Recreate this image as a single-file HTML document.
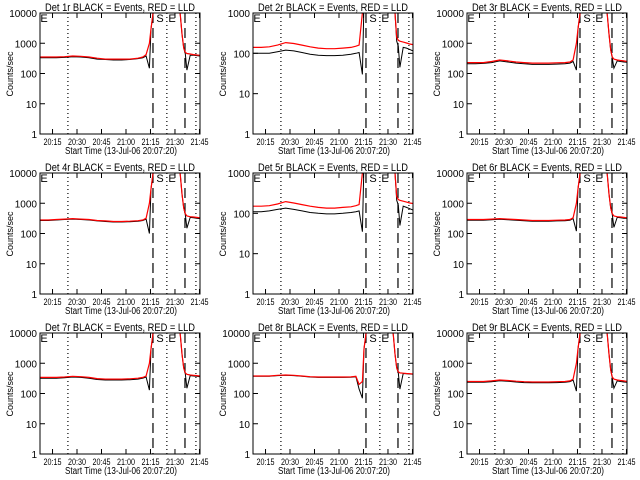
<!DOCTYPE html>
<html><head><meta charset="utf-8"><style>
html,body{margin:0;padding:0;background:#fff;}
svg{display:block;font-family:"Liberation Sans",sans-serif;}
</style></head><body>
<svg id="chart" width="640" height="480" viewBox="0 0 640 480"></svg>
<script>
const times=[0,5,10,15,20,25,30,35,40,45,50,55,60,63,65,67,68,69,70,71,85,86,87,88,89,90,92,94,96,98];
const xTickLabels=["20:15","20:30","20:45","21:00","21:15","21:30","21:45"];
const xTickMinutes=[7.67,22.67,37.67,52.67,67.67,82.67,97.67];
const dottedLines=[17.1,77.7,95.5];
const dashedLines=[69.2,88.8];
const detNames=["1r","2r","3r","4r","5r","6r","7r","8r","9r"];
const yMaxDecade=[4,3,4,4,3,4,4,4,4];
const red1=[350,350,350,360,380,370,350,320,300,300,300,300,320,350,420,1000,3000,8000,20000,20000,20000,8000,2000,700,500,460,440,420,410,400];
const blk1=[330,330,330,340,360,350,330,300,290,280,280,290,310,330,380,150,3000,8000,20000,20000,20000,8000,2000,700,450,130,400,400,390,380];
const red2=[140,140,145,160,185,175,160,145,135,130,130,135,140,150,160,1000,2000,3000,3000,3000,3000,2000,1000,250,210,200,190,180,170,165];
const blk2=[100,100,100,110,120,115,105,95,90,88,88,90,95,100,105,30,2000,3000,3000,3000,3000,2000,1000,200,150,45,140,135,125,115];
const red3=[230,230,230,250,280,260,240,230,220,220,220,225,230,240,280,1000,3000,8000,20000,20000,20000,8000,2000,600,350,300,280,270,260,250];
const blk3=[210,210,215,230,260,240,220,210,200,200,200,205,210,220,250,130,3000,8000,20000,20000,20000,8000,2000,600,320,150,260,250,240,235];
const red4=[280,280,290,300,310,300,290,270,260,250,250,255,265,280,320,1000,3000,8000,20000,20000,20000,8000,2000,700,450,380,360,350,340,330];
const blk4=[270,270,280,290,300,290,280,260,250,240,240,245,255,270,300,100,3000,8000,20000,20000,20000,8000,2000,700,420,150,340,330,320,310];
const red5=[150,150,155,170,195,180,165,150,140,135,135,140,145,155,165,1000,2000,3000,3000,3000,3000,2000,1000,260,220,210,200,190,180,175];
const blk5=[110,110,115,125,135,125,115,105,100,97,97,100,105,110,115,35,2000,3000,3000,3000,3000,2000,1000,210,160,50,150,140,130,120];
const red6=[290,290,290,300,310,300,290,280,270,270,270,275,280,290,330,1000,3000,8000,20000,20000,20000,8000,2000,700,450,380,360,350,340,330];
const blk6=[275,275,275,285,295,285,275,265,255,255,255,260,265,275,310,120,3000,8000,20000,20000,20000,8000,2000,700,420,160,340,330,320,315];
const red7=[340,340,340,350,370,360,340,310,300,300,300,305,320,340,380,1000,3000,8000,20000,20000,20000,8000,2000,700,480,430,410,400,390,380];
const blk7=[320,320,320,330,350,340,320,290,280,280,280,285,300,320,350,130,3000,8000,20000,20000,20000,8000,2000,700,450,150,390,380,370,360];
const red8=[380,380,380,400,410,400,380,360,350,350,350,350,355,370,200,250,3000,8000,20000,20000,20000,8000,2000,700,520,480,470,460,450,440];
const blk8=[370,370,370,390,400,390,370,350,340,340,340,340,345,360,140,70,3000,8000,20000,20000,20000,8000,2000,700,480,140,460,450,440,430];
const red9=[250,250,250,260,280,270,255,245,240,240,240,245,250,260,300,1000,3000,8000,20000,20000,20000,8000,2000,600,350,300,280,270,260,250];
const blk9=[235,235,235,245,265,255,240,230,225,225,225,230,235,245,280,120,3000,8000,20000,20000,20000,8000,2000,600,320,150,260,250,240,235];
const redSeries=[red1,red2,red3,red4,red5,red6,red7,red8,red9];
const blackSeries=[blk1,blk2,blk3,blk4,blk5,blk6,blk7,blk8,blk9];

const NS="http://www.w3.org/2000/svg";
const svg=document.getElementById('chart');
function mk(tag,attrs,parent){const e=document.createElementNS(NS,tag);for(const k in attrs)e.setAttribute(k,attrs[k]);(parent||svg).appendChild(e);return e;}

for(let i=0;i<9;i++){
  const px=[0,213,427][i%3], py=[0,160,320][Math.floor(i/3)];
  const L=px+40,R=px+200,T=py+13,B=py+134;
  const maxD=yMaxDecade[i];
  const xs=m=>L+m/98*(R-L);
  const ys=v=>B-Math.log10(Math.max(v,0.1))/maxD*(B-T);
  const g=mk('g',{});
  
  
  const cp=mk('clipPath',{id:'cp'+i},g);mk('rect',{x:L,y:T,width:R-L,height:B-T},cp);
  const t=mk('text',{x:px+45,y:py+11,'font-size':'11',textLength:'150',lengthAdjust:'spacingAndGlyphs'},g);
  t.textContent='Det '+detNames[i]+' BLACK = Events, RED = LLD';
  
  
  dottedLines.forEach(m=>{const l=mk('line',{x1:xs(m),x2:xs(m),y1:T,y2:B,stroke:'#000','stroke-width':1.2,'stroke-dasharray':'1 3'},g);
    });
  dashedLines.forEach(m=>{const l=mk('line',{x1:xs(m),x2:xs(m),y1:T,y2:B,stroke:'#000','stroke-width':1.2,'stroke-dasharray':'10 5'},g);
    });
  const pts=a=>a.map((v,j)=>xs(times[j]).toFixed(1)+','+ys(v).toFixed(1)).join(' ');
  const bl=mk('polyline',{points:pts(blackSeries[i]),fill:'none',stroke:'#000','stroke-width':1,'clip-path':'url(#cp'+i+')'},g);
  
  const rl=mk('polyline',{points:pts(redSeries[i]),fill:'none',stroke:'#f00','stroke-width':1.2,'clip-path':'url(#cp'+i+')'},g);
  
  [['S',px+160],['E',px+172],['E',px+44]].forEach(s=>{const e=mk('text',{x:s[1],y:T+9,'font-size':'11','text-anchor':'middle'},g);e.textContent=s[0];
    });
  const bx=mk('rect',{x:L,y:T,width:R-L,height:B-T,fill:'none',stroke:'#000','stroke-width':1},g);
  
  for(let d=0;d<=maxD;d++){
    const y=ys(Math.pow(10,d));
    mk('line',{x1:L,x2:L+5,y1:y,y2:y,stroke:'#000'},g);mk('line',{x1:R-5,x2:R,y1:y,y2:y,stroke:'#000'},g);
    const lb=mk('text',{x:L-3,y:y+4,'text-anchor':'end','font-size':'10'},g);lb.textContent=String(Math.pow(10,d));
    
  }
  xTickMinutes.forEach((m,k)=>{const x=xs(m);
    mk('line',{x1:x,x2:x,y1:B,y2:B-5,stroke:'#000'},g);mk('line',{x1:x,x2:x,y1:T,y2:T+5,stroke:'#000'},g);
    const lb=mk('text',{x:x-9,y:B+11,'font-size':'9',textLength:'18',lengthAdjust:'spacingAndGlyphs'},g);lb.textContent=xTickLabels[k];
    });
  const xt=mk('text',{x:px+65,y:py+154,'font-size':'10',textLength:'112',lengthAdjust:'spacingAndGlyphs'},g);xt.textContent='Start Time (13-Jul-06 20:07:20)';
  
  const yt=mk('text',{x:0,y:0,'text-anchor':'middle','font-size':'9',transform:'translate('+(px+13)+','+(py+74)+') rotate(-90)'},g);yt.textContent='Counts/sec';
  
}
</script>
</body></html>
